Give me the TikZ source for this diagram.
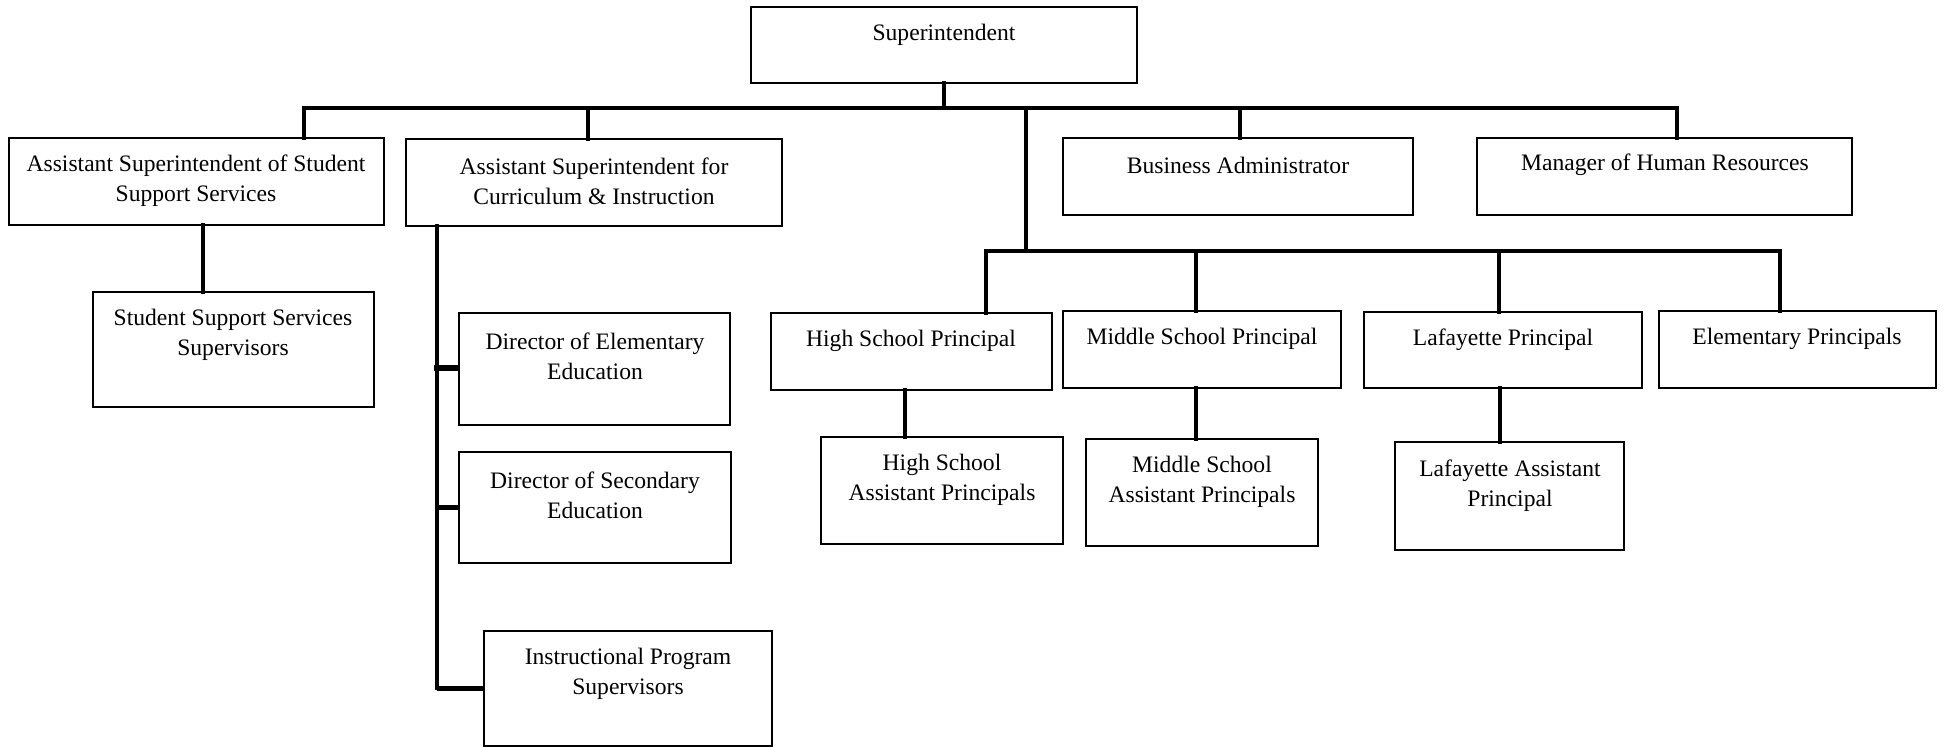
\documentclass[tikz,border=0pt]{standalone}
\usepackage{fontspec}
\setmainfont{Liberation Serif}
\usetikzlibrary{calc}
\begin{document}
\begin{tikzpicture}[x=0.5pt,y=-0.5pt,
  box/.style={draw=black, line width=0.9pt, inner sep=0pt, outer sep=0pt, anchor=north west},
  txt/.style={align=center, inner sep=0pt, yshift=-1.5pt, font=\fontsize{11.8}{15}\selectfont},
  conn/.style={line width=1.8pt, line cap=rect},
  tick/.style={line width=2.6pt}]
\useasboundingbox (0,0) rectangle (1944,747);
% boxes: \orgbox{name}{x1}{y1}{x2}{y2}
\newcommand\orgbox[5]{%
  \pgfmathsetmacro\bw{(#4-#2)*0.5}%
  \pgfmathsetmacro\bh{(#5-#3)*0.5}%
  \node[box, minimum width=\bw pt, minimum height=\bh pt] (#1) at (#2,#3) {};}
\orgbox{sup}{751}{7}{1137}{83}
\orgbox{ass}{9}{138}{384}{225}
\orgbox{asc}{406}{139}{782}{226}
\orgbox{ba}{1063}{138}{1413}{215}
\orgbox{hr}{1477}{138}{1852}{215}
\orgbox{ssss}{93}{292}{374}{407}
\orgbox{dee}{459}{313}{730}{425}
\orgbox{dse}{459}{452}{731}{563}
\orgbox{ips}{484}{631}{772}{746}
\orgbox{hsp}{771}{313}{1052}{390}
\orgbox{msp}{1063}{311}{1341}{388}
\orgbox{laf}{1364}{312}{1642}{388}
\orgbox{elem}{1659}{311}{1936}{388}
\orgbox{hsap}{821}{437}{1063}{544}
\orgbox{msap}{1086}{439}{1318}{546}
\orgbox{lap}{1395}{442}{1624}{550}
% texts
\node[txt] (t-sup) at (944,32) {Superintendent};
\node[txt] (t-ass) at (196,178) {Assistant Superintendent of Student\\Support Services};
\node[txt] (t-asc) at (594,178) {Assistant Superintendent for\\Curriculum \& Instruction};
\node[txt] (t-ba) at (1238,162) {Business Administrator};
\node[txt] (t-hr) at (1665,162) {Manager of Human Resources};
\node[txt] (t-ssss) at (233,332) {Student Support Services\\Supervisors};
\node[txt] (t-dee) at (595,353) {Director of Elementary\\Education};
\node[txt] (t-dse) at (595,492) {Director of Secondary\\Education};
\node[txt] (t-ips) at (628,671) {Instructional Program\\Supervisors};
\node[txt] (t-hsp) at (911,338) {High School Principal};
\node[txt] (t-msp) at (1202,336) {Middle School Principal};
\node[txt] (t-laf) at (1503,337) {Lafayette Principal};
\node[txt] (t-elem) at (1797,336) {Elementary Principals};
\node[txt] (t-hsap) at (942,477) {High School\\Assistant Principals};
\node[txt] (t-msap) at (1202,479) {Middle School\\Assistant Principals};
\node[txt] (t-lap) at (1510,483) {Lafayette Assistant\\Principal};
% connector coordinates
\coordinate (b1a) at (304,108);
\coordinate (b1b) at (588,108);
\coordinate (b1c) at (1026,108);
\coordinate (b1d) at (1240,108);
\coordinate (b1e) at (1677,108);
\coordinate (b2a) at (986,251);
\coordinate (b2b) at (1196,251);
\coordinate (b2c) at (1499,251);
\coordinate (b2d) at (1780,251);
\coordinate (h1) at (905,390);
\coordinate (l1) at (1500,388);
\coordinate (s1) at (203,225);
\coordinate (cv) at (437,226);
\coordinate (cvend) at (437,688);
\coordinate (cvt) at (434,368);
% top level
\draw[conn] (sup.south) -- (sup.south |- b1a);
\draw[conn] (b1a |- ass.north) -- (b1a) -- (b1e) -- (b1e |- hr.north);
\draw[conn] (b1b) -- (b1b |- asc.north);
\draw[conn] (b1d) -- (b1d |- ba.north);
\draw[conn] (b1c) -- (b1c |- b2a);
% principals bar
\draw[conn] (b2a |- hsp.north) -- (b2a) -- (b2d) -- (b2d |- elem.north);
\draw[conn] (b2b) -- (b2b |- msp.north);
\draw[conn] (b2c) -- (b2c |- laf.north);
% assistants
\draw[conn] (h1) -- (h1 |- hsap.north);
\draw[conn] (msp.south -| b2b) -- (b2b |- msap.north);
\draw[conn] (l1) -- (l1 |- lap.north);
% student support
\draw[conn] (s1) -- (s1 |- ssss.north);
% curriculum branch
\draw[conn] (cv) -- (cvend);
\draw[tick] (cvt) -- (cvt -| dee.west);
\draw[tick] (dse.west -| cv) -- (dse.west);
\draw[tick] (ips.west -| cv) -- (ips.west);
\end{tikzpicture}
\end{document}
